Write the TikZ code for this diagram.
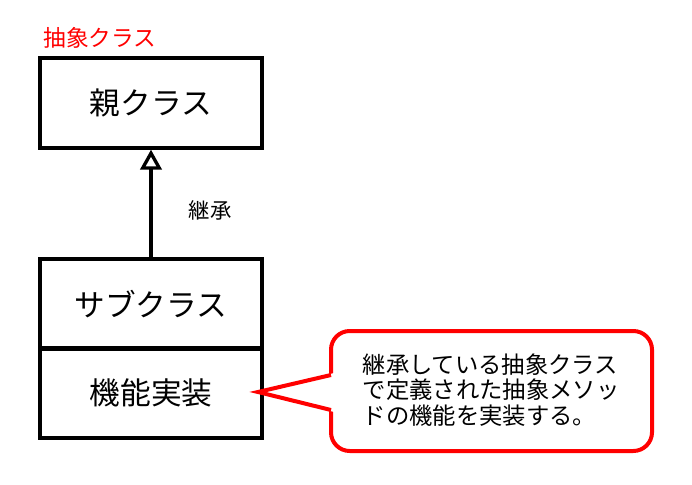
\documentclass[tikz,border=0pt]{standalone}
\usepackage{fontspec}
\setmainfont{Noto Sans CJK JP}
\usetikzlibrary{arrows.meta}
\tikzset{
	classbox/.style={draw, line width=3pt, minimum width=166.5pt, minimum height=67pt, font=\fontsize{23}{26}\selectfont},
	callout/.style={draw=red, line width=3pt, rounded corners=14pt, fill=white}
}
\begin{document}
\begin{tikzpicture}[x=0.75pt,y=-0.75pt]
	\useasboundingbox (0,0) rectangle (692,485);

	\node[classbox] (parent) at (151,103){親クラス};
	\node[classbox] (sub) at (151,304){サブクラス};
	\node[classbox] (impl) at (151,393){機能実装};
	\node[text=red, font=\fontsize{17}{20}\selectfont] (abs) at (100,38){抽象クラス};

	\draw[line width=3pt, -{Triangle[open, length=15pt, width=16pt, line width=2.5pt]}] (sub.north) -- (parent.south);
	\node[font=\fontsize{16}{19}\selectfont] (inh) at (210,210){継承};

	% callout
	\draw[callout] (331,331) rectangle (652,451);
	\coordinate (tip) at (258,392);
	\fill[white] (334,373) -- (tip) -- (334,412) -- cycle;
	\draw[red, line width=3pt, line join=miter] (331,375) -- (tip) -- (331,410);
	\node[align=left, font=\fontsize{17.5}{19}\selectfont] (note) at (491,390)
		{継承している抽象クラス\\で定義された抽象メソッ\\ドの機能を実装する。};
\end{tikzpicture}
\end{document}
